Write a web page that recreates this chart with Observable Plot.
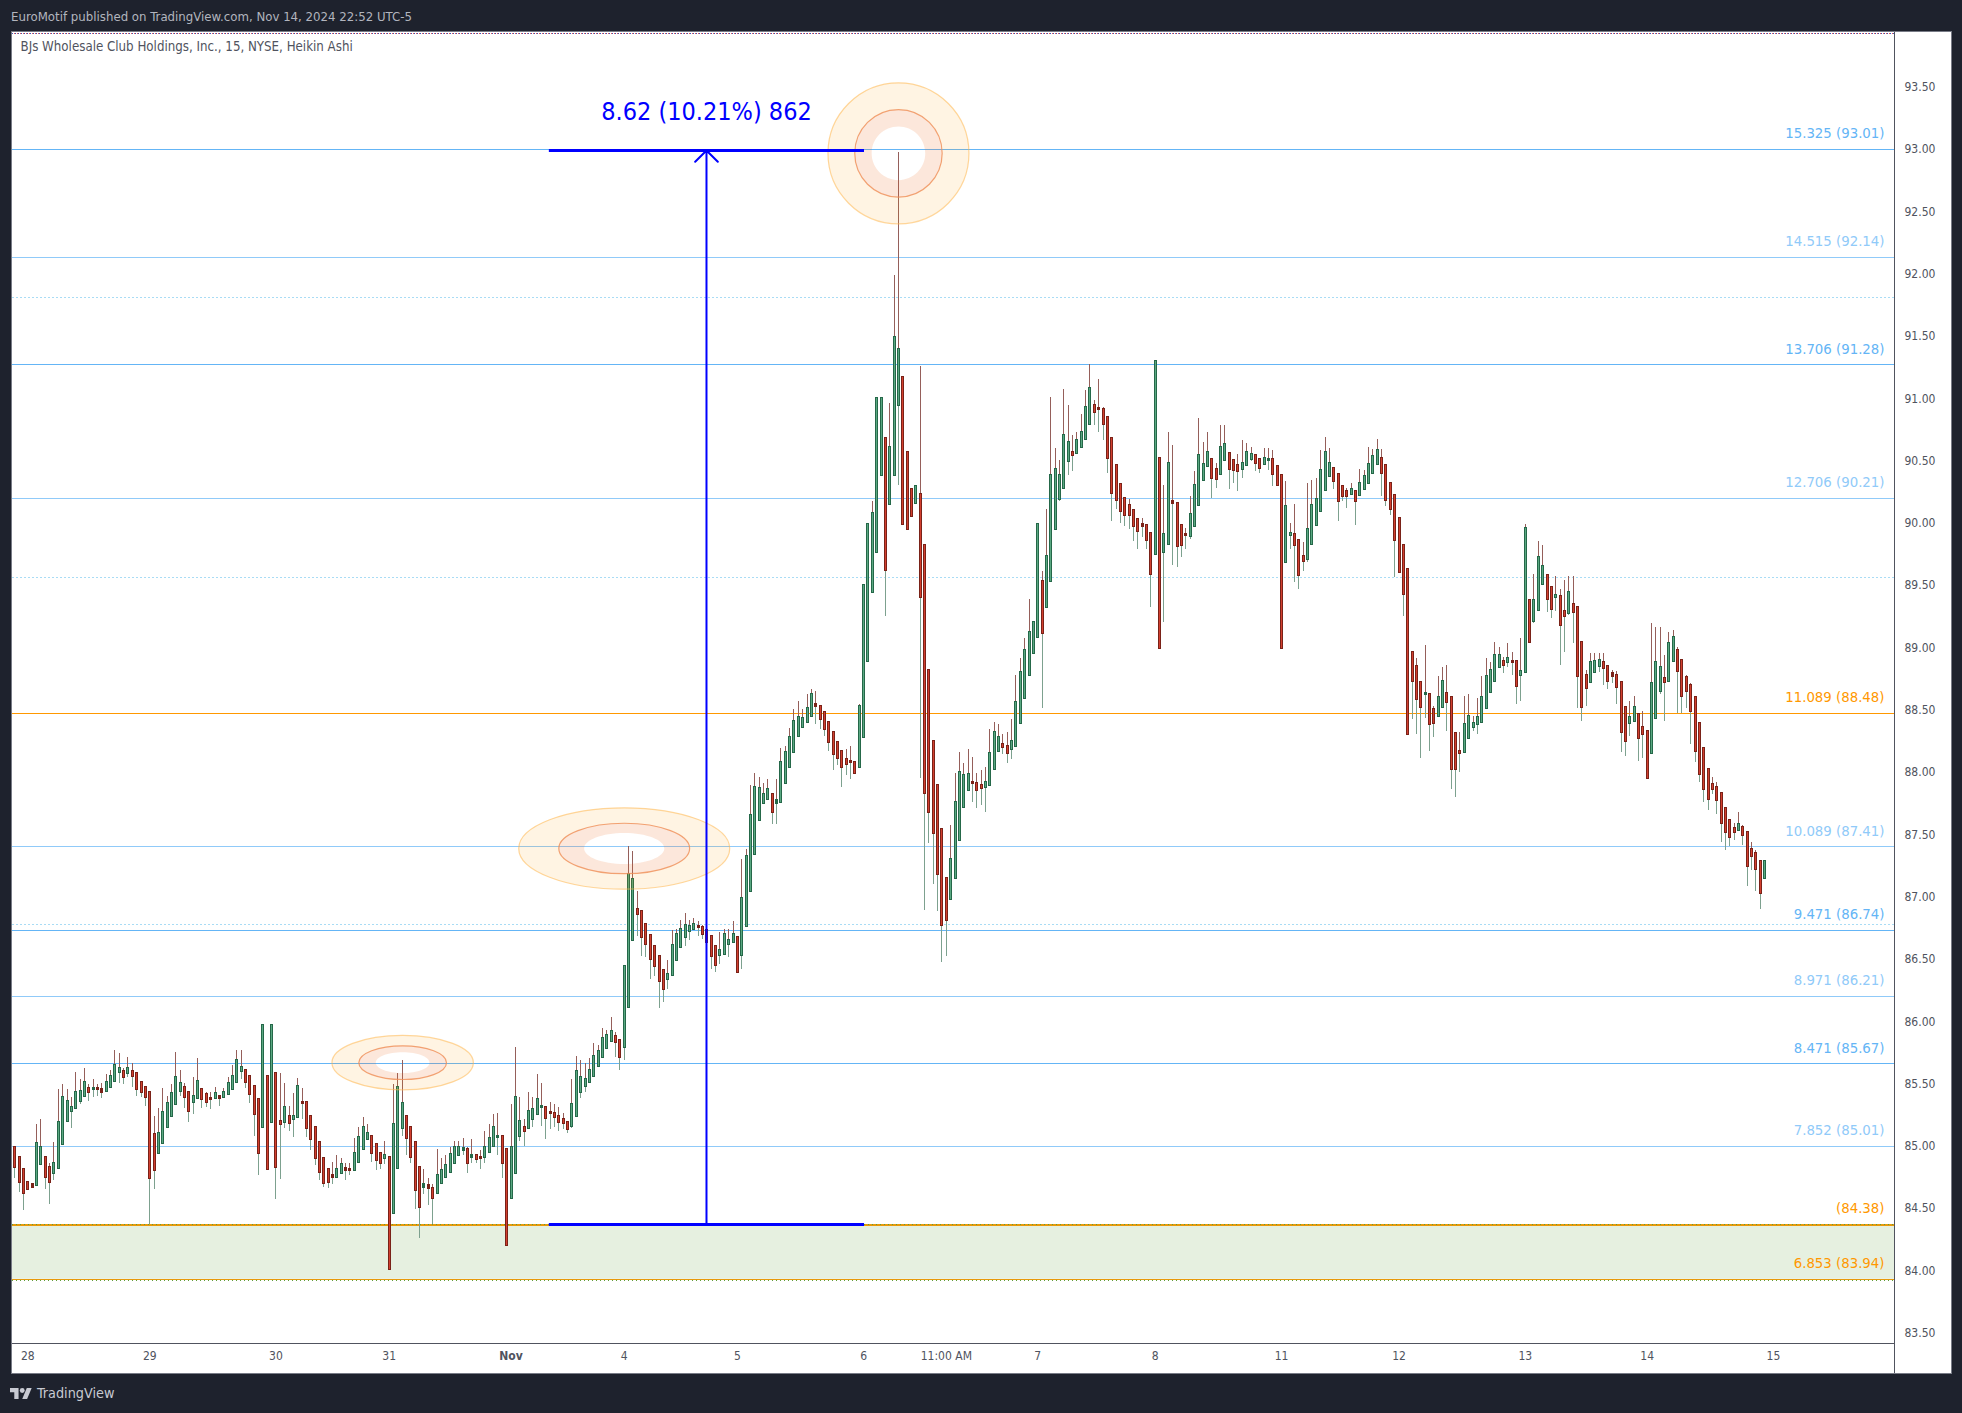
<!DOCTYPE html>
<html>
<head>
<meta charset="utf-8">
<script src="https://cdn.jsdelivr.net/npm/d3@7"></script>
<script src="https://cdn.jsdelivr.net/npm/@observablehq/plot@0.6"></script>
<style>
  html, body { margin: 0; padding: 0; background: #1e222d; width: 1962px; height: 1413px; overflow: hidden; }
  body, svg { font-family: "DejaVu Sans Condensed", "DejaVu Sans", sans-serif; }
  #head { position: absolute; left: 11px; top: 8px; font-size: 13.1px; line-height: 18px; color: #b2b5be; white-space: nowrap; }
  #chart { position: absolute; left: 12px; top: 32px; box-shadow: 0 0 0 1px #787b86; line-height: 0; }
  #foot { position: absolute; left: 10px; top: 1383px; color: #c8cad2; font-size: 14.3px; line-height: 20px; display: flex; align-items: center; gap: 5px; }
</style>
</head>
<body>
<div id="head">EuroMotif published on TradingView.com, Nov 14, 2024 22:52 UTC-5</div>
<div id="chart"></div>
<div id="foot"><svg width="22" height="17" viewBox="0 2 36 22"><path fill="#c8cad2" d="M14 22H7V11H0V4h14v18ZM28 22h-8l7.5-18h8L28 22Z"/><circle fill="#c8cad2" cx="20" cy="8" r="4"/></svg><span>TradingView</span></div>
<script>
// [open, high, low, close], one list per session
const oct28 = [[85.04,85.04,84.95,84.95],[85.00,85.00,84.75,84.84],[84.92,84.92,84.64,84.72],[84.82,84.82,84.49,84.63],[84.72,84.72,84.66,84.66],[84.70,84.70,84.68,84.68],[84.69,85.18,84.69,85.03],[84.86,85.22,84.86,85.00],[84.92,84.92,84.66,84.76],[84.84,84.87,84.54,84.72],[84.79,85.04,84.73,84.87],[84.83,85.46,84.83,85.20],[85.02,85.50,85.02,85.40],[85.21,85.46,85.21,85.37],[85.29,85.40,85.15,85.32],[85.31,85.60,85.31,85.44],[85.37,85.54,85.34,85.45],[85.41,85.63,85.41,85.52],[85.47,85.50,85.37,85.44],[85.46,85.54,85.40,85.47],[85.47,85.50,85.41,85.46],[85.46,85.51,85.39,85.44],[85.45,85.58,85.45,85.52],[85.48,85.62,85.48,85.57],[85.53,85.78,85.53,85.66],[85.60,85.75,85.51,85.63],[85.61,85.63,85.50,85.56],[85.59,85.72,85.56,85.63],[85.61,85.67,85.48,85.57],[85.59,85.59,85.41,85.46],[85.52,85.52,85.40,85.44],[85.48,85.48,85.33,85.40]];
const oct29 = [[85.44,85.44,84.38,84.75],[85.10,85.25,84.66,84.81],[84.95,85.31,84.95,85.11],[85.03,85.47,85.03,85.28],[85.16,85.41,85.16,85.35],[85.25,85.50,85.25,85.43],[85.34,85.76,85.34,85.56],[85.45,85.62,85.41,85.51],[85.48,85.51,85.31,85.40],[85.44,85.44,85.20,85.29],[85.36,85.56,85.26,85.41],[85.39,85.71,85.39,85.53],[85.46,85.46,85.31,85.38],[85.42,85.44,85.32,85.36],[85.39,85.44,85.30,85.38],[85.39,85.48,85.39,85.43],[85.41,85.41,85.33,85.39],[85.40,85.47,85.40,85.44],[85.42,85.56,85.42,85.51],[85.46,85.66,85.46,85.57],[85.52,85.78,85.52,85.70],[85.61,85.78,85.54,85.64],[85.62,85.62,85.47,85.52],[85.57,85.57,85.35,85.42],[85.49,85.49,85.09,85.26],[85.38,85.38,84.77,84.95],[85.16,85.98,85.16,85.98],[85.57,85.57,84.82,84.82],[85.20,85.98,85.20,85.98]];
const oct30 = [[85.59,85.59,84.58,84.84],[85.21,85.59,84.74,85.18],[85.20,85.51,85.15,85.32],[85.25,85.33,85.13,85.19],[85.22,85.43,85.08,85.25],[85.24,85.55,85.24,85.49],[85.36,85.47,85.22,85.35],[85.36,85.36,85.08,85.15],[85.25,85.25,84.97,85.06],[85.16,85.16,84.85,84.91],[85.04,85.04,84.73,84.80],[84.91,84.91,84.68,84.71],[84.82,84.83,84.67,84.72],[84.77,84.88,84.70,84.76],[84.76,84.93,84.75,84.82],[84.79,84.91,84.79,84.86],[84.83,84.87,84.73,84.81],[84.82,84.87,84.77,84.81],[84.81,85.07,84.81,84.95],[84.88,85.16,84.88,85.08],[84.98,85.24,84.98,85.16],[85.06,85.18,85.06,85.11],[85.09,85.09,84.88,84.95],[85.02,85.02,84.81,84.89],[84.95,84.95,84.82,84.87],[84.91,85.05,84.86,84.93]];
const oct31 = [[84.92,84.92,84.02,84.02],[84.47,85.50,84.47,85.18],[84.83,85.59,84.83,85.48],[85.15,85.70,85.09,85.35],[85.25,85.25,84.93,85.07],[85.16,85.16,84.87,84.92],[85.04,85.04,84.50,84.65],[84.84,84.84,84.27,84.52],[84.68,84.82,84.62,84.70],[84.69,84.75,84.53,84.67],[84.67,84.70,84.38,84.59],[84.63,84.98,84.62,84.77],[84.71,84.91,84.71,84.81],[84.76,84.93,84.76,84.85],[84.80,85.00,84.80,84.94],[84.87,85.05,84.87,85.00],[84.93,85.05,84.93,85.00],[84.97,85.07,84.93,84.99],[84.98,85.00,84.79,84.87],[84.92,85.06,84.87,84.93],[84.93,84.93,84.87,84.90],[84.92,84.97,84.82,84.91],[84.92,85.13,84.87,85.00],[84.96,85.18,84.96,85.07],[85.01,85.26,85.01,85.16],[85.08,85.27,84.93,85.09],[85.09,85.09,84.75,84.87],[84.98,84.98,84.21,84.21]];
const nov1 = [[84.59,85.34,84.59,85.00],[84.79,85.80,84.79,85.40],[85.09,85.40,85.05,85.21],[85.16,85.22,85.01,85.13],[85.15,85.44,85.15,85.29],[85.22,85.40,85.16,85.30],[85.26,85.58,85.26,85.38],[85.32,85.51,85.17,85.33],[85.32,85.32,85.06,85.23],[85.28,85.36,85.14,85.27],[85.27,85.34,85.16,85.24],[85.25,85.32,85.13,85.20],[85.22,85.27,85.14,85.19],[85.20,85.20,85.11,85.14],[85.17,85.54,85.15,85.34],[85.25,85.73,85.25,85.61],[85.44,85.70,85.39,85.56],[85.49,85.67,85.44,85.54],[85.52,85.71,85.52,85.62],[85.57,85.83,85.57,85.73],[85.65,85.82,85.65,85.77],[85.72,85.95,85.72,85.87],[85.79,85.94,85.79,85.90],[85.85,86.04,85.85,85.93],[85.89,85.92,85.72,85.84],[85.86,85.86,85.62,85.72]];
const nov4 = [[85.80,86.45,85.70,86.45],[86.12,87.41,86.12,87.19],[86.66,87.37,86.66,87.15],[86.91,87.05,86.69,86.87],[86.89,86.89,86.53,86.68],[86.79,86.79,86.52,86.63],[86.70,86.70,86.35,86.51],[86.61,86.61,86.37,86.45],[86.53,86.53,86.11,86.33],[86.42,86.42,86.16,86.27],[86.35,86.50,86.27,86.39],[86.38,86.74,86.38,86.62],[86.50,86.75,86.50,86.71],[86.60,86.82,86.60,86.75],[86.68,86.88,86.61,86.78],[86.73,86.82,86.66,86.77],[86.75,86.84,86.75,86.79],[86.77,86.81,86.69,86.76],[86.76,86.78,86.67,86.71],[86.74,86.74,86.57,86.64],[86.69,86.69,86.43,86.53],[86.61,86.61,86.40,86.46],[86.54,86.72,86.47,86.58],[86.55,86.75,86.55,86.71],[86.63,86.75,86.52,86.66],[86.64,86.81,86.64,86.71]];
const nov5 = [[86.68,86.68,86.40,86.40],[86.54,87.31,86.43,87.00],[86.77,87.39,86.77,87.33],[87.05,87.90,87.05,87.66],[87.35,88.00,87.35,87.89],[87.62,87.97,87.62,87.88],[87.76,87.92,87.76,87.83],[87.79,87.95,87.79,87.87],[87.83,87.83,87.59,87.69],[87.76,87.95,87.59,87.78],[87.77,88.20,87.77,88.09],[87.92,88.22,87.92,88.17],[88.05,88.36,88.05,88.29],[88.17,88.51,88.17,88.42],[88.30,88.58,88.30,88.45],[88.37,88.51,88.37,88.44],[88.41,88.63,88.41,88.52],[88.46,88.67,88.46,88.63],[88.55,88.66,88.39,88.54],[88.54,88.54,88.35,88.43],[88.49,88.49,88.30,88.35],[88.41,88.41,88.18,88.25],[88.33,88.33,88.02,88.15],[88.25,88.25,88.06,88.12],[88.18,88.18,87.89,88.05],[88.11,88.19,87.98,88.07],[88.10,88.22,87.95,88.09],[88.09,88.09,88.00,88.00],[88.05,88.55,88.05,88.54]];
const nov6 = [[88.29,89.51,88.29,89.51],[88.90,90.00,88.90,90.00],[89.45,90.18,89.45,90.09],[89.77,91.01,89.77,91.01],[90.39,91.01,90.39,91.01],[90.69,90.69,89.26,89.63],[90.16,90.97,90.16,90.62],[90.39,92.00,90.39,91.50],[90.95,92.98,90.31,91.40],[91.18,91.18,90.00,90.00],[90.58,90.58,89.96,89.96],[90.28,90.28,90.06,90.06],[90.17,90.30,90.17,90.30],[90.24,91.27,87.96,89.41],[89.83,89.83,86.90,87.84],[88.83,88.83,87.44,87.69],[88.26,88.26,87.11,87.52],[87.90,87.90,86.89,87.19],[87.55,87.55,86.48,86.78],[87.16,87.16,86.53,86.82],[86.99,87.58,86.99,87.31],[87.16,88.00,87.16,87.77],[87.46,88.17,87.46,88.01],[87.73,88.08,87.73,87.98],[87.86,88.19,87.86,87.99],[87.93,88.13,87.77,87.92],[87.92,88.00,87.72,87.86],[87.90,88.02,87.74,87.88],[87.89,88.05,87.69,87.93],[87.90,88.35,87.90,88.16],[88.03,88.41,88.03,88.33],[88.18,88.39,88.18,88.29],[88.23,88.31,88.15,88.21],[88.22,88.33,88.08,88.16],[88.19,88.43,88.11,88.26],[88.22,88.79,88.22,88.57],[88.40,88.92,88.40,88.81],[88.60,89.08,88.60,88.99],[88.79,89.40,88.79,89.13],[88.96,89.21,88.96,89.21]];
const nov7 = [[89.09,90.00,89.09,90.00],[89.54,89.62,88.52,89.12],[89.33,90.12,89.33,89.74],[89.54,91.02,89.54,90.39],[89.96,90.61,89.96,90.44],[90.20,90.51,90.18,90.39],[90.29,91.08,90.29,90.71],[90.50,90.95,90.39,90.66],[90.58,90.71,90.42,90.55],[90.57,90.74,90.57,90.67],[90.62,90.88,90.62,90.74],[90.68,91.07,90.68,90.94],[90.80,91.28,90.80,91.09],[90.95,90.99,90.79,90.90],[90.93,91.16,90.74,90.92],[90.92,90.94,90.67,90.80],[90.86,90.86,90.41,90.53],[90.69,90.69,90.02,90.25],[90.47,90.47,90.12,90.19],[90.32,90.32,90.01,90.10],[90.21,90.21,89.98,90.07],[90.15,90.20,89.96,90.07],[90.11,90.11,89.86,89.98],[90.04,90.04,89.80,89.94],[90.00,90.05,89.89,89.98],[89.99,89.99,89.80,89.87],[89.93,89.93,89.33,89.60]];
const nov8 = [[89.76,91.31,89.76,91.31],[90.53,90.53,89.00,89.00],[89.77,90.31,89.21,89.92],[89.84,90.74,89.84,90.49],[90.18,90.63,89.67,90.17],[90.17,90.17,89.65,89.82],[89.99,89.99,89.73,89.83],[89.92,89.97,89.80,89.91],[89.90,90.22,89.88,90.08],[89.98,90.42,89.98,90.31],[90.15,90.85,90.15,90.55],[90.35,90.66,90.35,90.48],[90.46,90.74,90.46,90.58],[90.52,90.52,90.21,90.37],[90.44,90.49,90.29,90.36],[90.40,90.79,90.40,90.62],[90.51,90.79,90.51,90.64],[90.57,90.57,90.28,90.44],[90.51,90.51,90.33,90.43],[90.47,90.56,90.26,90.42],[90.44,90.67,90.37,90.49],[90.47,90.65,90.47,90.58],[90.52,90.62,90.50,90.56],[90.55,90.55,90.42,90.49],[90.52,90.52,90.41,90.45],[90.48,90.61,90.48,90.53],[90.51,90.61,90.43,90.52],[90.52,90.59,90.30,90.40],[90.46,90.46,90.31,90.31]];
const nov11 = [[90.39,90.39,89.00,89.00],[89.69,90.34,89.69,90.14],[89.91,90.01,89.80,89.93],[89.92,90.16,89.53,89.83],[89.87,89.87,89.48,89.59],[89.74,89.85,89.62,89.70],[89.72,90.33,89.69,89.96],[89.84,90.35,89.84,90.15],[89.99,90.37,89.99,90.20],[90.10,90.59,90.10,90.43],[90.27,90.70,90.27,90.58],[90.38,90.61,90.38,90.49],[90.45,90.45,90.28,90.34],[90.40,90.40,90.02,90.18],[90.30,90.30,90.18,90.22],[90.26,90.29,90.13,90.22],[90.24,90.33,90.24,90.28],[90.26,90.26,89.99,90.18],[90.23,90.44,90.23,90.33],[90.28,90.43,90.28,90.38],[90.33,90.62,90.33,90.48],[90.41,90.60,90.41,90.54],[90.48,90.68,90.48,90.59],[90.53,90.60,90.22,90.41],[90.47,90.47,90.14,90.19],[90.33,90.33,90.07,90.12],[90.23,90.23,89.57,89.87]];
const nov12 = [[90.05,90.05,89.61,89.61],[89.83,89.83,89.26,89.44],[89.64,89.64,88.31,88.31],[88.97,88.97,88.43,88.74],[88.86,88.92,88.31,88.59],[88.73,88.73,88.12,88.53],[88.63,89.03,88.44,88.64],[88.63,88.63,88.18,88.39],[88.51,88.54,88.29,88.40],[88.46,88.78,88.46,88.61],[88.53,88.85,88.53,88.74],[88.64,88.87,88.34,88.57],[88.61,88.61,87.87,88.03],[88.32,88.32,87.81,88.03],[88.18,88.33,88.01,88.16],[88.17,88.62,88.17,88.39],[88.28,88.63,88.28,88.46],[88.37,88.46,88.34,88.40],[88.39,88.60,88.31,88.45],[88.41,88.78,88.41,88.61],[88.52,88.92,88.52,88.78],[88.65,88.89,88.65,88.83],[88.74,89.05,88.74,88.95],[88.85,89.01,88.85,88.95],[88.90,88.93,88.80,88.87],[88.89,89.04,88.85,88.92],[88.90,88.97,88.79,88.89],[88.90,88.90,88.55,88.70],[88.79,89.08,88.58,88.82]];
const nov13 = [[88.81,90.00,88.81,89.97],[89.39,89.39,89.05,89.05],[89.22,89.60,89.20,89.39],[89.31,89.86,89.31,89.73],[89.52,89.83,89.52,89.66],[89.59,89.59,89.29,89.40],[89.49,89.49,89.24,89.32],[89.41,89.58,89.30,89.43],[89.42,89.48,88.87,89.19],[89.30,89.55,88.97,89.26],[89.28,89.58,89.27,89.45],[89.36,89.58,89.04,89.29],[89.33,89.33,88.52,88.78],[89.05,89.05,88.42,88.53],[88.79,88.83,88.54,88.68],[88.73,88.96,88.73,88.89],[88.81,88.96,88.81,88.90],[88.86,88.96,88.81,88.91],[88.89,88.96,88.71,88.84],[88.86,88.86,88.67,88.74],[88.80,88.83,88.72,88.78],[88.79,88.82,88.55,88.69],[88.73,88.73,88.17,88.33],[88.53,88.53,88.14,88.26],[88.40,88.58,88.30,88.45],[88.42,88.62,88.42,88.53],[88.47,88.47,88.10,88.28],[88.37,88.50,88.12,88.31]];
const nov14 = [[88.34,88.34,87.95,87.96],[88.16,89.20,88.16,88.72],[88.44,89.17,88.44,88.89],[88.66,89.17,88.63,88.85],[88.76,88.95,88.42,88.73],[88.74,89.13,88.74,89.04],[88.90,89.15,88.90,89.09],[88.99,89.01,88.48,88.82],[88.91,88.91,88.48,88.62],[88.77,88.79,88.52,88.66],[88.71,88.72,88.23,88.50],[88.61,88.61,88.09,88.18],[88.40,88.40,87.93,87.99],[88.20,88.20,87.77,87.87],[88.03,88.03,87.70,87.79],[87.91,87.97,87.83,87.87],[87.89,87.93,87.67,87.78],[87.84,87.84,87.45,87.60],[87.72,87.72,87.38,87.53],[87.62,87.62,87.41,87.49],[87.56,87.60,87.46,87.53],[87.54,87.69,87.54,87.59],[87.57,87.58,87.42,87.50],[87.53,87.53,87.09,87.25],[87.39,87.45,87.22,87.33],[87.36,87.38,87.05,87.23],[87.29,87.29,86.91,87.04],[87.16,87.29,87.16,87.29]];

// Fibonacci-style levels
const levelPrices = [93.01, 92.14, 91.28, 90.21, 88.48, 87.41, 86.74, 86.21, 85.67, 85.01, 84.38, 83.94];
const levelTexts = ["15.325 (93.01)", "14.515 (92.14)", "13.706 (91.28)", "12.706 (90.21)", "11.089 (88.48)", "10.089 (87.41)", "9.471 (86.74)", "8.971 (86.21)", "8.471 (85.67)", "7.852 (85.01)", "(84.38)", "6.853 (83.94)"];
const levelKinds = ["strong", "light", "strong", "light", "orange", "light", "strong", "light", "strong", "light", "orange", "orange"];
const dashedLevels = [91.82, 89.57, 86.785];

// Time axis: bar number and label
const dayTickBars = [4, 32, 61, 87, 141, 167, 196, 215, 236, 263, 292, 319, 348, 376, 405];
const dayTickLabels = ["28", "29", "30", "31", "4", "5", "6", "11:00 AM", "7", "8", "11", "12", "13", "14", "15"];
const monthTickBars = [115];
const monthTickLabels = ["Nov"];
const priceTicks = [83.5, 84, 84.5, 85, 85.5, 86, 86.5, 87, 87.5, 88, 88.5, 89, 89.5, 90, 90.5, 91, 91.5, 92, 92.5, 93, 93.5];

// Measure tool and highlighted swings
const measureBars = [123.8, 159.9, 196.2];
const measurePrices = [84.38, 93.0];
const measureText = "8.62 (10.21%) 862";
const swingBars = [90.1, 141.0, 204.0];
const swingPrices = [85.679, 87.398, 92.977];

const title = "BJs Wholesale Club Holdings, Inc., 15, NYSE, Heikin Ashi";

const candles = [oct28, oct29, oct30, oct31, nov1, nov4, nov5, nov6, nov7, nov8, nov11, nov12, nov13, nov14]
  .flat()
  .map(([open, high, low, close], i) => ({ i, open, high, low, close, top: Math.max(open, close), bottom: Math.min(open, close) }));
const rising = candles.filter((d) => d.close >= d.open);
const falling = candles.filter((d) => d.close < d.open);

const levels = levelPrices.map((price, k) => ({ price, text: levelTexts[k], kind: levelKinds[k] }));
const kindColor = { strong: "#64b5f6", light: "#90caf9", orange: "#ff9800" };
const ofKind = (k) => levels.filter((d) => d.kind === k);

// ---- scale set-up
const xMin = 0.47, xMax = 432.82, yMin = 83.425, yMax = 93.947;
const W = 1939, H = 1341;

function oval(ctx, rx, ry, dir) {
  const k = 0.5523;
  ctx.moveTo(rx, 0);
  ctx.bezierCurveTo(rx, dir * k * ry, k * rx, dir * ry, 0, dir * ry);
  ctx.bezierCurveTo(-k * rx, dir * ry, -rx, dir * k * ry, -rx, 0);
  ctx.bezierCurveTo(-rx, -dir * k * ry, -k * rx, -dir * ry, 0, -dir * ry);
  ctx.bezierCurveTo(k * rx, -dir * ry, rx, -dir * k * ry, rx, 0);
  ctx.closePath();
}
const ring = (rx, ry, hx, hy) => ({ draw(ctx) { oval(ctx, rx, ry, 1); if (hx) oval(ctx, hx, hy, -1); } });

const swingShape = [[70.7, 27.2], [105.5, 40.7], [70.5, 70.5]];
const swingMarks = swingShape.flatMap(([rx, ry], k) => {
  const at = [{ x: swingBars[k], y: swingPrices[k] }];
  const mid = 0.62, hole = 0.38;
  return [
    Plot.dot(at, { x: "x", y: "y", r: 1, symbol: ring(rx, ry, rx * mid, ry * mid), fill: "#ff9800", fillOpacity: 0.11, stroke: "none" }),
    Plot.dot(at, { x: "x", y: "y", r: 1, symbol: ring(rx, ry), fill: "none", stroke: "#ffb74d", strokeOpacity: 0.55, strokeWidth: 1.2 }),
    Plot.dot(at, { x: "x", y: "y", r: 1, symbol: ring(rx * mid, ry * mid, rx * hole, ry * hole), fill: "#ee6a20", fillOpacity: 0.16, stroke: "none" }),
    Plot.dot(at, { x: "x", y: "y", r: 1, symbol: ring(rx * mid, ry * mid), fill: "none", stroke: "#ef8d55", strokeOpacity: 0.8, strokeWidth: 1.2 })
  ];
});

const upperWick = Plot.ruleX(candles, { x: "i", y1: "high", y2: "top", stroke: "#955f5a", strokeWidth: 1, clip: true, shapeRendering: "crispEdges" });
const lowerWick = Plot.ruleX(candles, { x: "i", y1: "bottom", y2: "low", stroke: "#7da18f", strokeWidth: 1, clip: true, shapeRendering: "crispEdges" });
const bodyEdge = (data, color) => Plot.ruleX(data, { x: "i", y1: "top", y2: "bottom", stroke: color, strokeWidth: 3, insetTop: -1, insetBottom: -1, clip: true, shapeRendering: "crispEdges" });
const bodyFill = (data, color) => Plot.ruleX(data.filter((d) => d.top - d.bottom > 0.02), { x: "i", y1: "top", y2: "bottom", stroke: color, strokeWidth: 1, clip: true, shapeRendering: "crispEdges" });

const levelRule = (kind) => Plot.ruleY(ofKind(kind), { y: "price", stroke: kindColor[kind], strokeWidth: 1, shapeRendering: "crispEdges" });
const levelText = (kind) => Plot.text(ofKind(kind), { x: () => xMax, y: "price", text: "text", fill: kindColor[kind], textAnchor: "end", dx: -10, dy: -16, fontSize: 14.8 });

const chart = Plot.plot({
  width: W, height: H,
  marginTop: 0, marginLeft: 0, marginRight: 57, marginBottom: 30,
  style: { background: "white", fontFamily: '"DejaVu Sans Condensed","DejaVu Sans",sans-serif', overflow: "hidden" },
  x: { type: "linear", domain: [xMin, xMax], range: [0, W - 57] },
  y: { type: "linear", domain: [yMin, yMax], range: [H - 30, 0] },
  marks: [
    // support band
    Plot.rect([{}], { x1: () => xMin, x2: () => xMax, y1: () => levelPrices[11], y2: () => levelPrices[10], fill: "#e6f0e0" }),
    // dashed helpers
    Plot.ruleY(dashedLevels, { stroke: "#a9dcf5", strokeWidth: 1, strokeDasharray: "2,2", shapeRendering: "crispEdges" }),
    // levels
    levelRule("strong"), levelRule("light"),
    Plot.ruleY([levelPrices[4]], { stroke: kindColor.orange, strokeWidth: 1, shapeRendering: "crispEdges" }),
    Plot.ruleY([levelPrices[10]], { stroke: "#e89a0c", strokeWidth: 2, shapeRendering: "crispEdges" }),
    Plot.ruleY([levelPrices[10]], { stroke: "#5f9e3a", strokeWidth: 1, strokeDasharray: "1,3", shapeRendering: "crispEdges" }),
    Plot.ruleY([levelPrices[11]], { stroke: "#e89a0c", strokeWidth: 1.5, shapeRendering: "crispEdges" }),
    Plot.ruleY([levelPrices[11]], { stroke: "#5f9e3a", strokeWidth: 1, strokeDasharray: "1,3", dy: 1, shapeRendering: "crispEdges" }),
    // top dotted border
    Plot.ruleY([yMax - 0.008], { stroke: "#3f51b5", strokeWidth: 1, strokeDasharray: "1,2", shapeRendering: "crispEdges" }),
    Plot.ruleY([yMax - 0.008], { stroke: "#e25a5a", strokeWidth: 1, strokeDasharray: "1,2", strokeDashoffset: 1.5, shapeRendering: "crispEdges" }),
    // candles: upper shadows are brown, lower shadows grey-green
    upperWick, lowerWick,
    bodyEdge(falling, "#7a2218"), bodyEdge(rising, "#256849"),
    bodyFill(falling, "#d23f2f"), bodyFill(rising, "#5aa882"),
    // highlighted swings
    ...swingMarks,
    // measure tool
    Plot.ruleY([measurePrices[1]], { x1: () => measureBars[0], x2: () => measureBars[2], stroke: "#0000ff", strokeWidth: 3 }),
    Plot.ruleY([measurePrices[0]], { x1: () => measureBars[0], x2: () => measureBars[2], stroke: "#0000ff", strokeWidth: 3 }),
    Plot.arrow([{}], { x1: () => measureBars[1], x2: () => measureBars[1], y1: () => measurePrices[0], y2: () => measurePrices[1], stroke: "#0000ff", strokeWidth: 2, bend: 0, headLength: 12, headAngle: 90 }),
    Plot.text([measureText], { x: () => measureBars[1], y: () => measurePrices[1], text: (d) => d, fill: "#0000ff", fontSize: 25, dy: -38 }),
    // level labels
    levelText("strong"), levelText("light"), levelText("orange"),
    // frame of the panes
    Plot.ruleY([yMin], { stroke: "#50535e", strokeWidth: 1, shapeRendering: "crispEdges" }),
    Plot.ruleX([xMax], { stroke: "#50535e", strokeWidth: 1, insetBottom: -30, shapeRendering: "crispEdges" }),
    // axes
    Plot.axisY(priceTicks, { anchor: "right", tickSize: 0, tickPadding: 10, label: null, tickFormat: d3.format(".2f"), fontSize: 12, color: "#50535e", textAnchor: "start", dy: -1 }),
    Plot.axisX(dayTickBars, { anchor: "bottom", tickSize: 0, tickPadding: 8, label: null, tickFormat: (d) => dayTickLabels[dayTickBars.indexOf(d)], fontSize: 12, color: "#50535e" }),
    Plot.axisX(monthTickBars, { anchor: "bottom", tickSize: 0, tickPadding: 8, label: null, tickFormat: (d) => monthTickLabels[monthTickBars.indexOf(d)], fontSize: 12, fontWeight: "bold", color: "#50535e" }),
    // title
    Plot.text([title], { frameAnchor: "top-left", text: (d) => d, dx: 8, dy: 9, fontSize: 13.2, fill: "#50535e" })
  ]
});
document.getElementById("chart").appendChild(chart);
</script>
</body>
</html>
